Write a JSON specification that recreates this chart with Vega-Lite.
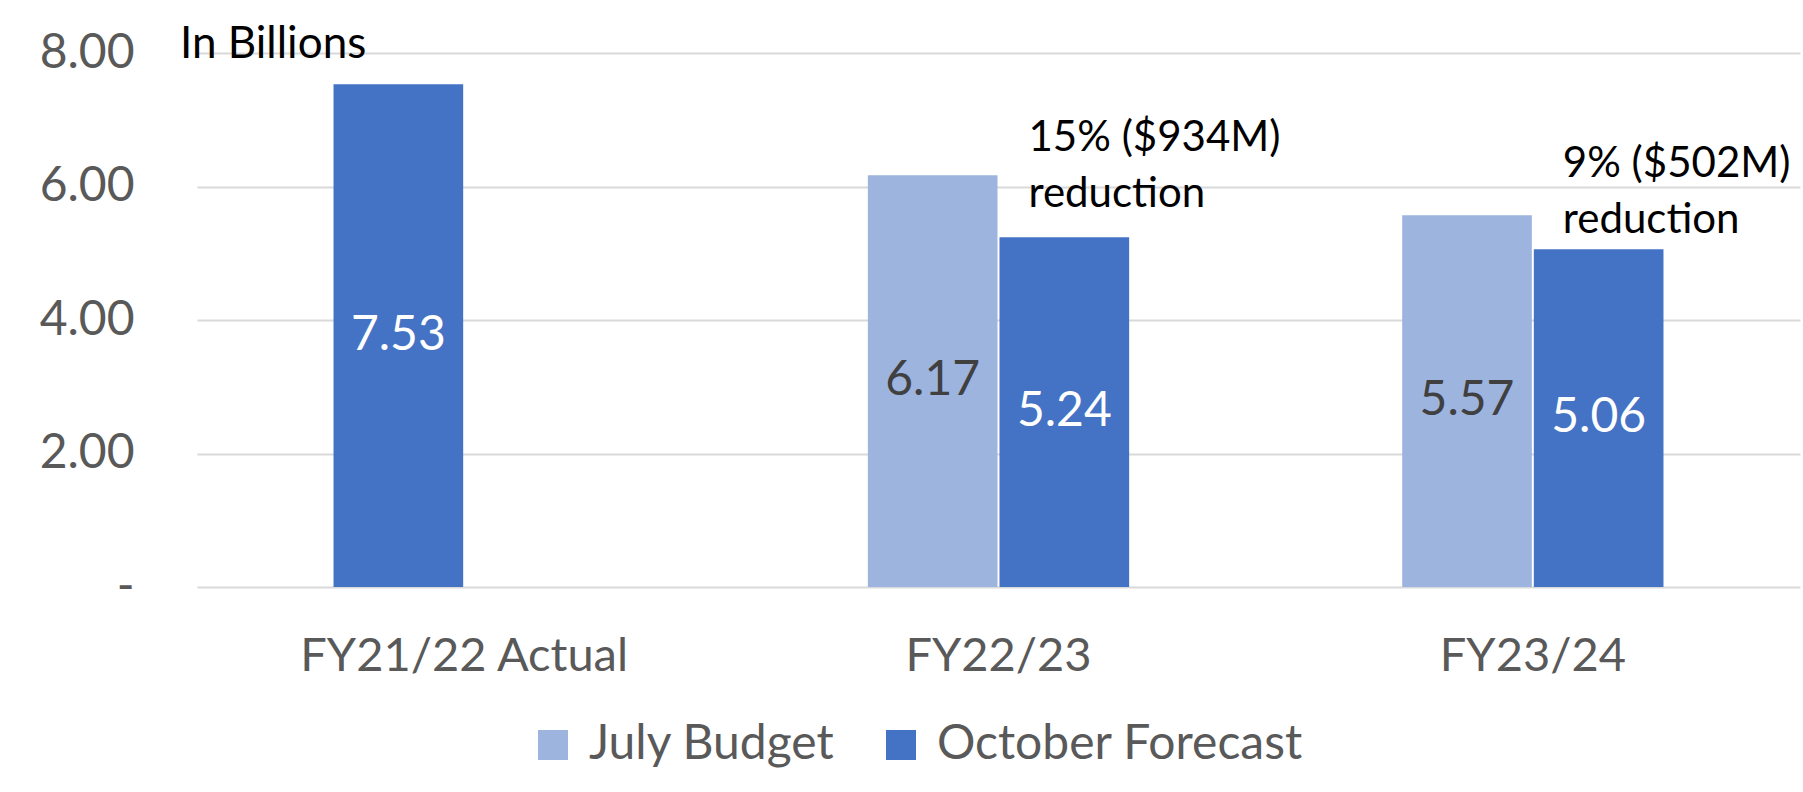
{
  "$schema": "https://vega.github.io/schema/vega-lite/v6.json",
  "width": 1603,
  "height": 534,
  "autosize": {"type": "none"},
  "padding": {"left": 197, "top": 53, "right": 3, "bottom": 205},
  "background": "white",
  "title": {"text": "In Billions", "anchor": "start", "frame": "group", "orient": "top", "font": "Lato", "fontSize": 44, "fontWeight": "normal", "color": "black", "dx": -17, "dy": 73, "offset": 0, "baseline": "alphabetic"},
  "config": {"view": {"stroke": null}, "font": "Lato"},
  "datasets": {
    "bars": [
      {"category": "FY21/22 Actual", "slot": "a", "series": "October Forecast", "value": 7.53},
      {"category": "FY22/23", "slot": "a", "series": "July Budget", "value": 6.17},
      {"category": "FY22/23", "slot": "b", "series": "October Forecast", "value": 5.24},
      {"category": "FY23/24", "slot": "a", "series": "July Budget", "value": 5.57},
      {"category": "FY23/24", "slot": "b", "series": "October Forecast", "value": 5.06}
    ],
    "notes": [
      {"category": "FY22/23", "value": 6.53, "note": "15% ($934M)\nreduction"},
      {"category": "FY23/24", "value": 6.14, "note": "9% ($502M)\nreduction"}
    ]
  },
  "resolve": {"scale": {"y": "independent"}, "axis": {"y": "independent"}},
  "layer": [
    {
      "layer": [
        {
          "data": {"name": "bars"},
          "mark": {"type": "bar", "strokeWidth": 0},
          "encoding": {
            "x": {"field": "category", "type": "nominal", "sort": ["FY21/22 Actual", "FY22/23", "FY23/24"],
                  "scale": {"paddingInner": 0.511, "paddingOuter": 0.2555},
                  "axis": {"title": null, "labelFontSize": 47, "labelColor": "#595959", "labelPadding": 46, "ticks": false, "domain": false, "labelAngle": 0, "labelFont": "Lato", "labelLimit": 0}},
            "xOffset": {"field": "slot", "type": "nominal", "scale": {"paddingInner": 0.015, "paddingOuter": 0}},
            "y": {"field": "value", "type": "quantitative", "scale": {"domain": [0, 8], "nice": false},
                  "axis": {"title": null, "values": [0, 2, 4, 6, 8], "labelExpr": "datum.value === 0 ? '-\u00a0\u00a0' : format(datum.value, '.2f')", "labelFontSize": 48, "labelColor": "#595959", "labelPadding": 63, "ticks": false, "domain": false, "gridColor": "#D9D9D9", "gridWidth": 2, "labelFont": "Lato"}},
            "color": {"field": "series", "type": "nominal",
                      "scale": {"domain": ["July Budget", "October Forecast"], "range": ["#9DB4DF", "#4472C4"]},
                      "legend": {"orient": "none", "legendX": 332, "legendY": 668, "direction": "horizontal", "title": null, "symbolType": "square", "symbolSize": 900, "symbolStrokeWidth": 0, "labelFontSize": 48, "labelColor": "#595959", "labelFont": "Lato", "columnPadding": 42, "labelOffset": 12, "padding": 0, "labelLimit": 0}}
          }
        },
        {
          "data": {"name": "notes"},
          "mark": {"type": "text", "fontSize": 42, "font": "Lato", "align": "left", "baseline": "alphabetic", "dx": 30, "lineBreak": "\n", "lineHeight": 56, "color": "black"},
          "encoding": {
            "x": {"field": "category", "type": "nominal", "sort": ["FY21/22 Actual", "FY22/23", "FY23/24"]},
            "y": {"field": "value", "type": "quantitative"},
            "text": {"field": "note", "type": "nominal"}
          }
        }
      ]
    },
    {
      "data": {"name": "bars"},
      "mark": {"type": "text", "fontSize": 48, "font": "Lato", "baseline": "middle"},
      "encoding": {
        "x": {"field": "category", "type": "nominal", "sort": ["FY21/22 Actual", "FY22/23", "FY23/24"]},
        "xOffset": {"field": "slot", "type": "nominal"},
        "y": {"field": "value", "type": "quantitative", "scale": {"domain": [0, 16], "nice": false}, "axis": null},
        "text": {"field": "value", "type": "quantitative", "format": ".2f"},
        "color": {"condition": {"test": "datum.series === 'July Budget'", "value": "#404040"}, "value": "white"}
      }
    }
  ]
}
